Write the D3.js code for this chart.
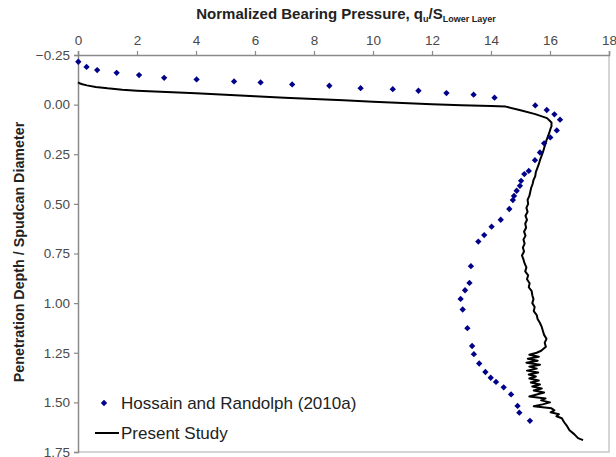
<!DOCTYPE html>
<html>
<head>
<meta charset="utf-8">
<script src="https://cdn.jsdelivr.net/npm/d3@7"></script>
<style>
  html, body { margin: 0; padding: 0; background: #fff; }
  svg { display: block; font-family: "Liberation Sans", Arial, sans-serif; }
</style>
</head>
<body>
<svg id="chart" width="616" height="457"></svg>
<script>
// Hossain and Randolph (2010a): normalized bearing pressure vs depth ratio
const hrBearing = [0.01, 0.29, 0.65, 1.31, 2.07, 2.92, 4.02, 5.29, 6.19, 7.26, 8.52, 9.58, 10.67, 11.54, 12.49, 13.41, 14.12,
  15.50, 15.89, 16.15, 16.34, 16.23, 16.01, 15.80, 15.66, 15.49, 15.28, 15.13, 15.02, 14.98, 14.87, 14.78, 14.74, 14.62,
  14.33, 14.02, 13.77, 13.57, 13.32, 13.27, 13.12, 12.97, 13.04, 13.20, 13.36, 13.42, 13.60, 13.81, 13.99, 14.17, 14.43,
  14.68, 14.90, 14.96, 15.32];
const hrDepth = [-0.216, -0.190, -0.174, -0.160, -0.149, -0.135, -0.127, -0.117, -0.112, -0.102, -0.095, -0.083, -0.078, -0.070, -0.058, -0.050, -0.035,
  0.004, 0.027, 0.049, 0.076, 0.130, 0.165, 0.195, 0.241, 0.280, 0.334, 0.350, 0.384, 0.409, 0.434, 0.460, 0.481, 0.526,
  0.580, 0.615, 0.657, 0.690, 0.814, 0.898, 0.935, 0.979, 1.032, 1.126, 1.216, 1.257, 1.304, 1.347, 1.376, 1.397, 1.424,
  1.460, 1.518, 1.552, 1.593];

// Present study: continuous penetration curve
const psBearing = [0.00, 0.05, 0.15, 0.30, 0.60, 1.00, 1.50, 2.00, 3.00, 4.00, 5.00, 6.00, 7.00, 8.00, 9.00, 10.00, 11.00, 12.00, 13.00, 14.00,
  14.50, 15.00, 15.50, 15.90, 16.05, 16.05,
  16.02, 15.98, 15.93, 15.88, 15.84, 15.80, 15.76, 15.71, 15.66, 15.62, 15.57, 15.52, 15.50, 15.44, 15.41, 15.36, 15.33, 15.30,
  15.24, 15.26, 15.20, 15.24, 15.17, 15.22, 15.16, 15.19, 15.12, 15.17, 15.10, 15.14, 15.08, 15.12, 15.05, 15.10, 15.14, 15.20,
  15.16, 15.26, 15.22, 15.31, 15.28, 15.38, 15.40, 15.44, 15.40, 15.48, 15.45, 15.55, 15.58, 15.66, 15.72, 15.76, 15.80, 15.88,
  15.82, 15.86, 15.70, 15.55, 15.30, 15.62, 15.25, 15.58, 15.20, 15.66, 15.30, 15.55, 15.22, 15.60, 15.28, 15.52, 15.30, 15.62,
  15.35, 15.66, 15.40, 15.72, 15.45, 15.80, 15.55, 15.30, 15.85, 15.70, 16.00, 15.75, 15.45, 16.05, 16.15, 16.02, 16.30, 16.22,
  16.40, 16.48, 16.58, 16.66, 16.82, 16.95, 17.12];
const psDepth = [-0.112, -0.108, -0.103, -0.097, -0.089, -0.082, -0.075, -0.070, -0.063, -0.057, -0.050, -0.042, -0.035, -0.028, -0.022, -0.015, -0.008, -0.002, 0.003, 0.007,
  0.010, 0.028, 0.048, 0.068, 0.090, 0.110,
  0.12, 0.14, 0.16, 0.18, 0.20, 0.22, 0.24, 0.26, 0.28, 0.30, 0.32, 0.34, 0.36, 0.38, 0.40, 0.42, 0.44, 0.46,
  0.48, 0.50, 0.52, 0.54, 0.56, 0.58, 0.60, 0.62, 0.64, 0.66, 0.68, 0.70, 0.72, 0.74, 0.76, 0.78, 0.80, 0.82,
  0.84, 0.86, 0.88, 0.90, 0.92, 0.94, 0.96, 0.98, 1.00, 1.02, 1.04, 1.06, 1.08, 1.10, 1.12, 1.14, 1.16, 1.18,
  1.20, 1.22, 1.24, 1.25, 1.26, 1.27, 1.28, 1.29, 1.30, 1.31, 1.32, 1.33, 1.34, 1.35, 1.36, 1.37, 1.38, 1.39,
  1.40, 1.41, 1.42, 1.43, 1.44, 1.45, 1.46, 1.47, 1.48, 1.49, 1.50, 1.51, 1.52, 1.53, 1.54, 1.55, 1.56, 1.57,
  1.58, 1.60, 1.62, 1.64, 1.66, 1.68, 1.69];

const xTicks = [0, 2, 4, 6, 8, 10, 12, 14, 16, 18];
const yTicks = [-0.25, 0, 0.25, 0.5, 0.75, 1.0, 1.25, 1.5, 1.75];
const seriesNames = ["Hossain and Randolph (2010a)", "Present Study"];

const svg = d3.select("#chart");
const plot = { left: 78, right: 609, top: 55, bottom: 452 };

const x = d3.scaleLinear().domain([0, 18]).range([plot.left, plot.right]);
const y = d3.scaleLinear().domain([-0.25, 1.75]).range([plot.top, plot.bottom]);

// frame: light border on the right and bottom
svg.append("path")
  .attr("d", `M${plot.right},${plot.top}V${plot.bottom}H${plot.left}`)
  .attr("fill", "none").attr("stroke", "#c8c8c8").attr("stroke-width", 1.5);

// top axis
const xAxis = svg.append("g")
  .attr("transform", `translate(0,${plot.top})`)
  .call(d3.axisTop(x).tickValues(xTicks).tickFormat(d3.format("d")).tickSize(4).tickPadding(6));
// left axis
const yAxis = svg.append("g")
  .attr("transform", `translate(${plot.left},0)`)
  .call(d3.axisLeft(y).tickValues(yTicks).tickFormat(d3.format(".2f")).tickSize(4).tickPadding(4));

[xAxis, yAxis].forEach(g => {
  g.select(".domain").attr("stroke", "#8a8a8a").attr("stroke-width", 1.5);
  g.selectAll(".tick line").attr("stroke", "#8a8a8a").attr("stroke-width", 1.2);
  g.selectAll(".tick text").attr("fill", "#4a4a4a").style("font-size", "13.5px")
    .style("font-family", "'Liberation Sans', Arial, sans-serif");
});

// present study curve
const line = d3.line().x(i => x(psBearing[i])).y(i => y(psDepth[i])).curve(d3.curveLinear);
svg.append("path")
  .attr("d", line(d3.range(psBearing.length)))
  .attr("fill", "none").attr("stroke", "#000").attr("stroke-width", 2).attr("stroke-linejoin", "round");

// Hossain & Randolph markers (small diamonds)
const marker = d3.symbol().type(d3.symbolSquare).size(20);
svg.append("g").selectAll("path")
  .data(d3.range(hrBearing.length))
  .join("path")
  .attr("d", marker)
  .attr("transform", i => `translate(${x(hrBearing[i])},${y(hrDepth[i])}) rotate(45)`)
  .attr("fill", "#000088");

// axis titles
const title = svg.append("text")
  .attr("x", 346).attr("y", 19).attr("text-anchor", "middle")
  .style("font-size", "15px").style("font-weight", "bold").attr("fill", "#222");
title.append("tspan").text("Normalized Bearing Pressure, q");
title.append("tspan").attr("dy", 3).style("font-size", "9px").text("u");
title.append("tspan").attr("dy", -3).text("/S");
title.append("tspan").attr("dy", 3).style("font-size", "9px").text("Lower Layer");

svg.append("text")
  .attr("transform", `translate(24,${252}) rotate(-90)`)
  .attr("text-anchor", "middle")
  .style("font-size", "14.3px").style("font-weight", "bold").attr("fill", "#222")
  .text("Penetration Depth / Spudcan Diameter");

// legend
const legend = svg.append("g");
legend.append("path").attr("d", marker)
  .attr("transform", `translate(${104},${403}) rotate(45)`).attr("fill", "#000088");
legend.append("text").attr("x", 121).attr("y", 409)
  .style("font-size", "17px").attr("fill", "#222").text(seriesNames[0]);
legend.append("line").attr("x1", 95).attr("x2", 119).attr("y1", 433).attr("y2", 433)
  .attr("stroke", "#000").attr("stroke-width", 2);
legend.append("text").attr("x", 121).attr("y", 439)
  .style("font-size", "17px").attr("fill", "#222").text(seriesNames[1]);
</script>
</body>
</html>
